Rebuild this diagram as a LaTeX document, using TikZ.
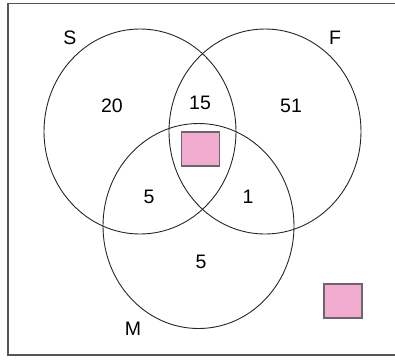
\documentclass[tikz,border=0pt]{standalone}
\usepackage{fontspec}
\setmainfont{Liberation Sans}
\definecolor{marker}{RGB}{242,172,208}
\definecolor{frame}{RGB}{85,85,85}
\definecolor{markeredge}{RGB}{110,100,110}
\begin{document}
\begin{tikzpicture}[x=1pt,y=-1pt,
  setring/.style={draw=black!85,line width=0.9pt},
  count/.style={font=\fontsize{19.5}{22}\selectfont,inner sep=0pt},
  tag/.style={font=\fontsize{19.5}{22}\selectfont,inner sep=0pt},
  marksq/.style={draw=markeredge,fill=marker,line width=1.4pt,inner sep=0pt}]
  \useasboundingbox (0,0) rectangle (395,360);
  \clip (0,0) rectangle (395,360);
  % outer frame (universal set)
  \draw[frame,line width=1.5pt] (8,3.5) rectangle (402,355);
  % the three sets
  \draw[setring] (140,131.5) ellipse [x radius=96, y radius=102.5];
  \draw[setring] (265,131.5) ellipse [x radius=96, y radius=102.5];
  \draw[setring] (198.5,226) ellipse [x radius=95.5, y radius=102.5];
  % set names
  \node[tag] (nS) at (70,38) {S};
  \node[tag] (nF) at (335,38) {F};
  \node[tag] (nM) at (133,329) {M};
  % region counts
  \node[count] (cS) at (112,106) {20};
  \node[count] (cSF) at (200,103) {15};
  \node[count] (cF) at (291,106) {51};
  \node[count] (cSM) at (149,197) {5};
  \node[count] (cFM) at (248,197) {1};
  \node[count] (cM) at (201,262) {5};
  % markers
  \node[marksq,minimum width=38pt,minimum height=34pt] (centre) at (200.5,149) {};
  \node[marksq,minimum width=38pt,minimum height=34pt] (outside) at (343,301) {};
\end{tikzpicture}
\end{document}
